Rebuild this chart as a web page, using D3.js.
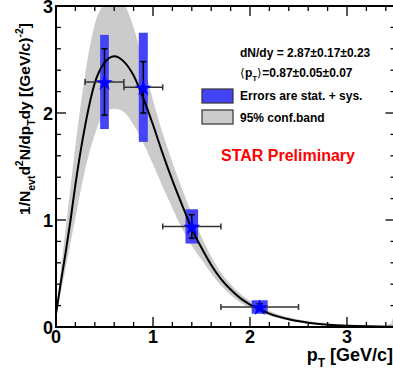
<!DOCTYPE html>
<html>
<head>
<meta charset="utf-8">
<script src="https://cdn.jsdelivr.net/npm/d3@7"></script>
<style>
  body { margin: 0; background: #fff; }
  svg { display: block; font-family: "Liberation Sans", Arial, sans-serif; font-weight: bold; }
</style>
</head>
<body>
<svg id="chart" width="393" height="374"></svg>
<script>
// fit curve and 95% confidence band
const fitPt  = [0, 0.05, 0.1, 0.15, 0.2, 0.3, 0.4, 0.5, 0.6, 0.7, 0.8, 0.9, 1.0, 1.1, 1.2, 1.3, 1.4, 1.5, 1.6, 1.7, 1.8, 1.9, 2.0, 2.1, 2.2, 2.4, 2.6, 2.8, 3.0, 3.2, 3.4, 3.45, 3.5];
const fitVal = [0.12, 0.42, 0.70, 1.0, 1.33, 1.88, 2.28, 2.47, 2.53, 2.48, 2.35, 2.14, 1.89, 1.62, 1.37, 1.14, 0.92, 0.74, 0.58, 0.45, 0.35, 0.27, 0.21, 0.165, 0.125, 0.072, 0.040, 0.022, 0.012, 0.006, 0.003, 0.002, 0.002];
const bandHi = [0.13, 0.53, 0.92, 1.31, 1.69, 2.36, 2.83, 3.02, 3.08, 3.02, 2.80, 2.47, 2.12, 1.81, 1.54, 1.29, 1.06, 0.84, 0.66, 0.51, 0.40, 0.31, 0.245, 0.195, 0.15, 0.09, 0.055, 0.034, 0.022, 0.016, 0.016, 0.03, 0.2];
const bandLo = [0.11, 0.33, 0.55, 0.79, 1.02, 1.47, 1.80, 2.00, 2.04, 2.01, 1.89, 1.72, 1.52, 1.31, 1.11, 0.92, 0.76, 0.63, 0.50, 0.39, 0.30, 0.23, 0.18, 0.14, 0.105, 0.06, 0.032, 0.016, 0.007, 0.003, 0.001, 0, 0];

// measured points
const ptVals  = [0.5, 0.9, 1.4, 2.1];
const ptLo    = [0.3, 0.7, 1.1, 1.7];
const ptHi    = [0.7, 1.1, 1.7, 2.5];
const yVals   = [2.29, 2.24, 0.94, 0.187];
const statErr = [0.31, 0.24, 0.11, 0.03];
const sysErr  = [0.44, 0.51, 0.16, 0.063];
const sysPtW  = [0.09, 0.093, 0.13, 0.165];

const xTicks = [0, 1, 2, 3];
const yTicks = [0, 1, 2, 3];

const svg = d3.select('#chart');
const padL = 56, padR = 395.5, padT = 6, padB = 327;

const x = d3.scaleLinear().domain([0, 3.5]).range([padL, padR]);
const y = d3.scaleLinear().domain([0, 3]).range([padB, padT]);

svg.append('clipPath').attr('id', 'plot')
  .append('rect').attr('x', padL).attr('y', padT).attr('width', padR - padL).attr('height', padB - padT);

const g = svg.append('g').attr('clip-path', 'url(#plot)');

// band
const band = fitPt.map((p, i) => ({ p: p, lo: bandLo[i], hi: bandHi[i] }));
g.append('path')
  .datum(band)
  .attr('fill', '#cbcbcb')
  .attr('d', d3.area().x(d => x(d.p)).y0(d => y(d.lo)).y1(d => y(d.hi)).curve(d3.curveMonotoneX));

// sys boxes
const pts = ptVals.map((p, i) => ({ p: p, v: yVals[i], lo: ptLo[i], hi: ptHi[i], st: statErr[i], sy: sysErr[i], w: sysPtW[i] }));
g.selectAll('.sys').data(pts).enter().append('rect')
  .attr('class', 'sys')
  .attr('x', d => x(d.p - d.w / 2))
  .attr('width', d => x(d.p + d.w / 2) - x(d.p - d.w / 2))
  .attr('y', d => y(d.v + d.sy))
  .attr('height', d => y(d.v - d.sy) - y(d.v + d.sy))
  .attr('fill', '#4444f6');

// fit curve
const fit = fitPt.map((p, i) => ({ p: p, v: fitVal[i] }));
g.append('path')
  .datum(fit)
  .attr('fill', 'none')
  .attr('stroke', '#000')
  .attr('stroke-width', 2)
  .attr('d', d3.line().x(d => x(d.p)).y(d => y(d.v)).curve(d3.curveMonotoneX));

// horizontal bars (bin width) and stat errors
const eb = g.append('g').attr('stroke', '#333').attr('stroke-width', 1.5);
pts.forEach(d => {
  eb.append('line').attr('x1', x(d.lo)).attr('x2', x(d.hi)).attr('y1', y(d.v)).attr('y2', y(d.v));
  eb.append('line').attr('x1', x(d.lo)).attr('x2', x(d.lo)).attr('y1', y(d.v) - 3).attr('y2', y(d.v) + 3);
  eb.append('line').attr('x1', x(d.hi)).attr('x2', x(d.hi)).attr('y1', y(d.v) - 3).attr('y2', y(d.v) + 3);
  eb.append('line').attr('stroke', '#000').attr('x1', x(d.p)).attr('x2', x(d.p)).attr('y1', y(d.v - d.st)).attr('y2', y(d.v + d.st));
  [d.v - d.st, d.v + d.st].forEach(e => {
    eb.append('line').attr('stroke', '#000').attr('x1', x(d.p) - 3).attr('x2', x(d.p) + 3).attr('y1', y(e)).attr('y2', y(e));
  });
});

// stars
g.selectAll('.star').data(pts).enter().append('path')
  .attr('class', 'star')
  .attr('transform', d => 'translate(' + x(d.p) + ',' + (y(d.v) + 1) + ')')
  .attr('d', d3.symbol().type(d3.symbolStar).size(85))
  .attr('fill', '#0000ff');

// frame and ticks
const ax = svg.append('g').attr('stroke', '#000');
ax.append('rect').attr('x', padL).attr('y', padT).attr('width', padR - padL).attr('height', padB - padT)
  .attr('fill', 'none').attr('stroke-width', 2);

d3.range(0, 3.5001, 0.2).forEach(t => {
  const major = xTicks.some(m => Math.abs(m - t) < 1e-6);
  const len = major ? 10 : 5;
  ax.append('line').attr('x1', x(t)).attr('x2', x(t)).attr('y1', padB).attr('y2', padB - len).attr('stroke-width', 1.3);
  ax.append('line').attr('x1', x(t)).attr('x2', x(t)).attr('y1', padT).attr('y2', padT + len).attr('stroke-width', 1.3);
});
d3.range(0, 3.0001, 0.2).forEach(t => {
  const major = yTicks.some(m => Math.abs(m - t) < 1e-6);
  const len = major ? 10 : 5;
  ax.append('line').attr('x1', padL).attr('x2', padL + len).attr('y1', y(t)).attr('y2', y(t)).attr('stroke-width', 1.3);
  ax.append('line').attr('x1', padR).attr('x2', padR - len).attr('y1', y(t)).attr('y2', y(t)).attr('stroke-width', 1.3);
});

// tick labels
svg.selectAll('.xl').data(xTicks).enter().append('text')
  .attr('x', d => x(d)).attr('y', 343)
  .attr('text-anchor', 'middle').attr('font-size', 18)
  .text(d => d);
svg.selectAll('.yl').data(yTicks).enter().append('text')
  .attr('x', 53).attr('y', d => y(d) + 7)
  .attr('text-anchor', 'end').attr('font-size', 18)
  .text(d => d);

// axis titles
const xt = svg.append('text').attr('x', 393).attr('y', 361).attr('text-anchor', 'end').attr('font-size', 18);
xt.append('tspan').text('p');
xt.append('tspan').attr('font-size', 12).attr('dy', 6).text('T');
xt.append('tspan').attr('dy', -6).text(' [GeV/c]');

const yt = svg.append('text').attr('transform', 'translate(30,119) rotate(-90)')
  .attr('text-anchor', 'middle').attr('font-size', 15.5);
yt.append('tspan').text('1/N');
yt.append('tspan').attr('font-size', 10.5).attr('dy', 5).text('evt');
yt.append('tspan').attr('dy', -5).text('d');
yt.append('tspan').attr('font-size', 10.5).attr('dy', -7).text('2');
yt.append('tspan').attr('dy', 7).text('N/dp');
yt.append('tspan').attr('font-size', 10.5).attr('dy', 5).text('T');
yt.append('tspan').attr('dy', -5).text('dy [(GeV/c)');
yt.append('tspan').attr('font-size', 10.5).attr('dy', -7).text('-2');
yt.append('tspan').attr('dy', 7).text(']');

// legend
svg.append('text').attr('x', 240).attr('y', 57).attr('font-size', 12).text('dN/dy = 2.87\u00b10.17\u00b10.23');
const pt = svg.append('text').attr('x', 240).attr('y', 77).attr('font-size', 12);
pt.append('tspan').attr('font-weight', 'normal').text('\u27e8');
pt.append('tspan').text('p');
pt.append('tspan').attr('font-size', 8).attr('dy', 4).text('T');
pt.append('tspan').attr('dy', -4).attr('font-weight', 'normal').text('\u27e9');
pt.append('tspan').text('=0.87\u00b10.05\u00b10.07');

svg.append('rect').attr('x', 202).attr('y', 89).attr('width', 31).attr('height', 14)
  .attr('fill', '#4444f6').attr('stroke', '#333').attr('stroke-width', 1.2);
svg.append('text').attr('x', 240).attr('y', 100).attr('font-size', 12).text('Errors are stat. + sys.');
svg.append('rect').attr('x', 202).attr('y', 110).attr('width', 31).attr('height', 14)
  .attr('fill', '#cbcbcb').attr('stroke', '#333').attr('stroke-width', 1.2);
svg.append('text').attr('x', 240).attr('y', 122).attr('font-size', 12).text('95% conf.band');

svg.append('text').attr('x', 221).attr('y', 161).attr('font-size', 16).attr('fill', '#ff0000').text('STAR Preliminary');
</script>
</body>
</html>
